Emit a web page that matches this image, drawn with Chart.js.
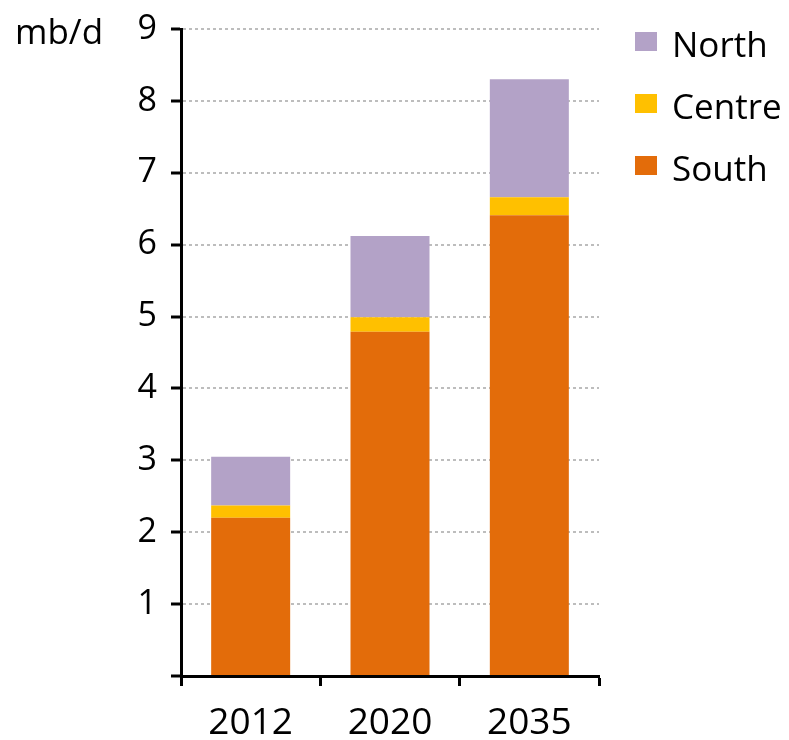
<!DOCTYPE html>
<html>
<head>
<meta charset="utf-8">
<script src="https://cdn.jsdelivr.net/npm/chart.js@4/dist/chart.umd.min.js"></script>
<style>
  html, body { margin: 0; padding: 0; background: #fff; }
  #wrap { width: 789px; height: 740px; position: relative; }
</style>
</head>
<body>
<div id="wrap"><canvas id="chart"></canvas></div>
<script>
// data
const years = ['2012', '2020', '2035'];
const south = [2.20, 4.79, 6.41];
const centre = [0.17, 0.20, 0.25];
const north = [0.68, 1.13, 1.64];
const unitLabel = 'mb/d';

const FONT = "'Open Sans', sans-serif";

// legend drawn to the right, North on top
const sideLegend = {
  id: 'sideLegend',
  afterDraw(chart) {
    const ctx = chart.ctx;
    ctx.save();
    ctx.font = '35px ' + FONT;
    ctx.fillStyle = '#000';
    ctx.textBaseline = 'alphabetic';
    ctx.fillText(unitLabel, 15, 44);
    const sets = chart.data.datasets.slice().reverse();
    sets.forEach((ds, i) => {
      const cy = 41 + i * 62;
      ctx.fillStyle = ds.backgroundColor;
      ctx.fillRect(635, cy - 9, 22, 19);
      ctx.fillStyle = '#000';
      ctx.fillText(ds.label, 672, cy + 16);
    });
    ctx.restore();
  }
};

new Chart(document.getElementById('chart'), {
  type: 'bar',
  data: {
    labels: years,
    datasets: [
      { label: 'South', data: south, backgroundColor: '#E36C0A' },
      { label: 'Centre', data: centre, backgroundColor: '#FFC000' },
      { label: 'North', data: north, backgroundColor: '#B3A2C7' }
    ]
  },
  options: {
    responsive: true,
    maintainAspectRatio: false,
    animation: false,
    layout: { padding: { top: 29, right: 190, bottom: 0, left: 0 } },
    datasets: { bar: { categoryPercentage: 1, barPercentage: 0.567 } },
    plugins: { legend: { display: false }, tooltip: { enabled: false } },
    scales: {
      x: {
        stacked: true,
        afterFit(s) { s.height = 64; s.paddingLeft = 0; s.paddingRight = 0; },
        border: { color: '#000', width: 3 },
        grid: { offset: true, drawOnChartArea: false, drawTicks: true, tickColor: '#000', tickWidth: 3, tickLength: 10 },
        ticks: { color: '#000', font: { family: FONT, size: 37 }, padding: 15 }
      },
      y: {
        stacked: true,
        min: 0,
        max: 9,
        afterFit(s) { s.width = 181; s.paddingTop = 0; s.paddingBottom = 0; },
        border: { color: '#000', width: 3, dash: [3, 3] },
        grid: { color: '#bdbdbd', lineWidth: 2, tickColor: '#000', tickWidth: 3, tickLength: 10, tickBorderDash: [] },
        ticks: {
          stepSize: 1, color: '#000', font: { family: FONT, size: 34 }, padding: 14,
          callback: (v) => (v === 0 ? '' : v)
        }
      }
    }
  },
  plugins: [sideLegend]
});
</script>
</body>
</html>
